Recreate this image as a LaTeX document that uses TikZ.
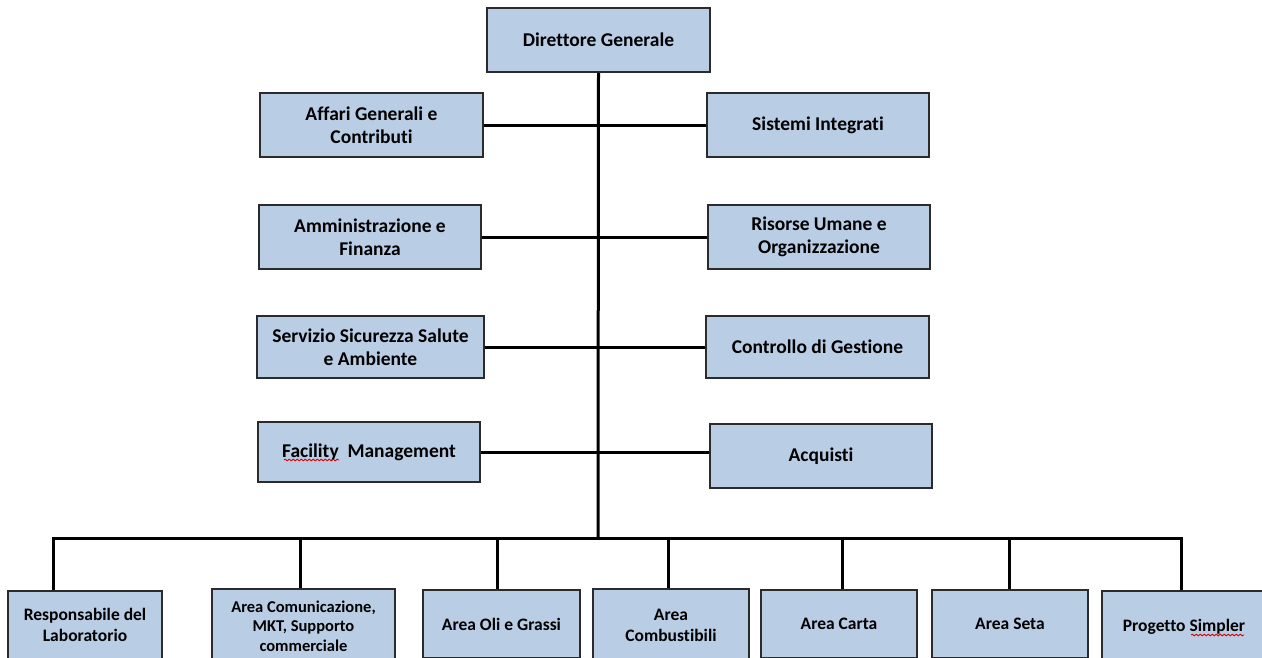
\documentclass[tikz,border=0pt]{standalone}
\usepackage{fontspec}
\setmainfont{Carlito}[Ligatures=NoCommon]
\usepackage{tikz}
\usetikzlibrary{decorations.pathmorphing}
\definecolor{boxblue}{HTML}{B9CDE5}
\definecolor{edge}{HTML}{2B2B2B}
\tikzset{unit/.style={draw=edge,line width=1.8pt,fill=boxblue,align=center,inner sep=2pt,
    font=\bfseries\fontsize{19.5}{22.5}\selectfont},
  area/.style={unit,font=\bfseries\fontsize{17.5}{21}\selectfont},
  link/.style={line width=3pt,black},
  spell/.style={red!85!black,line width=0.8pt,decorate,decoration={snake,amplitude=0.9pt,segment length=4pt}}}

\begin{document}
\begin{tikzpicture}[x=1pt,y=-1pt]
\useasboundingbox (0,0) rectangle (1262,657);
\clip (0,0) rectangle (1262,657);
% vertice
\node[unit,minimum width=223pt,minimum height=64pt] (dg) at (598.5,40) {Direttore Generale};
% staff
\node[unit,minimum width=223pt,minimum height=64pt] (l1) at (371.5,125) {Affari Generali e\\Contributi};
\node[unit,minimum width=222pt,minimum height=64pt] (r1) at (818,125) {Sistemi Integrati};
\node[unit,minimum width=222pt,minimum height=64pt] (l2) at (370,237) {Amministrazione e\\Finanza};
\node[unit,minimum width=222pt,minimum height=64pt] (r2) at (819,237) {Risorse Umane e\\Organizzazione};
\node[unit,minimum width=227pt,minimum height=62pt] (l3) at (370.5,347) {Servizio Sicurezza Salute\\e Ambiente};
\node[unit,minimum width=223pt,minimum height=62pt] (r3) at (817.5,347) {Controllo di Gestione};
\node[unit,minimum width=222pt,minimum height=60pt] (l4) at (369,452) {Facility\ \ Management};
\node[unit,minimum width=222pt,minimum height=64pt] (r4) at (821,456) {Acquisti};
% aree
\node[area,minimum width=154pt,minimum height=68pt] (b1) at (85,625) {Responsabile del\\Laboratorio};
\node[area,minimum width=183pt,minimum height=74pt,font=\bfseries\fontsize{16.5}{19.5}\selectfont] (b2) at (303.5,626) {Area Comunicazione,\\MKT, Supporto\\commerciale};
\node[area,minimum width=157pt,minimum height=68pt] (b3) at (501.5,624) {Area Oli e Grassi};
\node[area,minimum width=156pt,minimum height=72pt] (b4) at (671,625) {Area\\Combustibili};
\node[area,minimum width=156pt,minimum height=68pt] (b5) at (839,624) {Area Carta};
\node[area,minimum width=156pt,minimum height=68pt] (b6) at (1010,624) {Area Seta};
\node[area,minimum width=164pt,minimum height=72pt] (b7) at (1184,627) {Progetto Simpler};
% linee
\coordinate (hub) at (598,538);
\coordinate (t1) at (53,538); \coordinate (t2) at (300,538); \coordinate (t3) at (497,538);
\coordinate (t4) at (668,538); \coordinate (t5) at (842,538); \coordinate (t6) at (1009,538);
\coordinate (t7) at (1181,538);
\draw[link] (dg.south) -- (hub);
\draw[link] (l1.east) -- (r1.west);
\draw[link] (l2.east) -- (r2.west);
\draw[link] (l3.east) -- (r3.west);
\draw[link] (l4.east) -- (l4.east -| r4.west);
\draw[link,line cap=rect] (t1) -- (t7);
\foreach \i in {1,...,7}
  \draw[link] (t\i) -- (t\i |- b\i.north);
% sottolineature
\draw[spell] (284,460) -- (339,460);
\draw[spell] (1191,635) -- (1244,635);
\end{tikzpicture}
\end{document}
